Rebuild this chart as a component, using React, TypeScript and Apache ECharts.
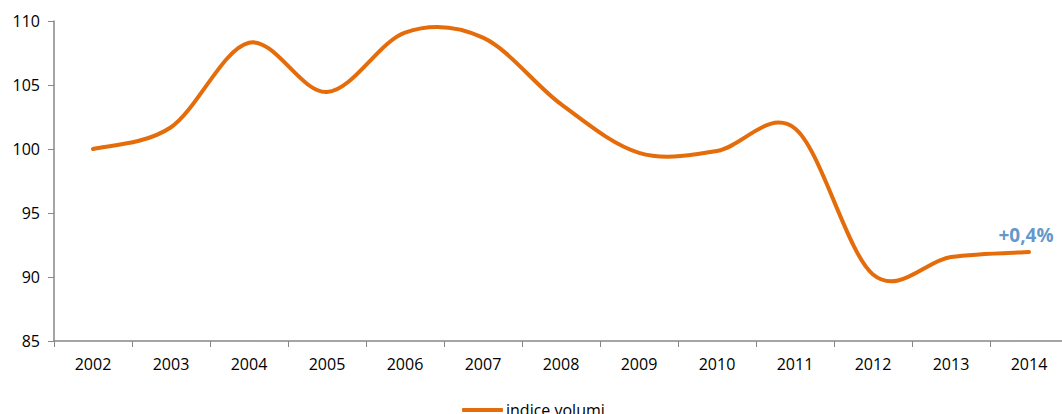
import React, { useEffect, useRef } from "react";
import * as echarts from "echarts";

const years = ["2002", "2003", "2004", "2005", "2006", "2007", "2008", "2009", "2010", "2011", "2012", "2013", "2014"];
const indiceVolumi = [100.0, 101.7, 108.3, 104.45, 109.1, 108.7, 103.5, 99.7, 99.85, 101.6, 90.2, 91.56, 91.95];
const lastLabel = "+0,4%";
const seriesName = "indice volumi";

const ORANGE = "#E46C0A";

export default function App() {
  const ref = useRef<HTMLDivElement>(null);
  useEffect(() => {
    if (!ref.current) return;
    document.body.style.overflow = "hidden";
    const chart = echarts.init(ref.current, undefined, { renderer: "svg" });
    const font = "'Open Sans', 'Liberation Sans', sans-serif";
    const axisColor = "#878787";
    const n = indiceVolumi.length;

    const renderItem = (params: any, api: any) => {
      if (params.dataIndex !== 0) return null;
      const pts = indiceVolumi.map((v, i) => api.coord([i, v]));
      let d = `M${pts[0][0]},${pts[0][1]}`;
      for (let i = 0; i < pts.length - 1; i++) {
        const p0 = pts[Math.max(0, i - 1)];
        const p1 = pts[i];
        const p2 = pts[i + 1];
        const p3 = pts[Math.min(pts.length - 1, i + 2)];
        const k = 1 / 6;
        const c1x = p1[0] + (p2[0] - p0[0]) * k;
        const c1y = p1[1] + (p2[1] - p0[1]) * k;
        const c2x = p2[0] - (p3[0] - p1[0]) * k;
        const c2y = p2[1] - (p3[1] - p1[1]) * k;
        d += ` C${c1x},${c1y} ${c2x},${c2y} ${p2[0]},${p2[1]}`;
      }
      return {
        type: "path",
        shape: { pathData: d },
        style: { fill: "none", stroke: ORANGE, lineWidth: 4, lineCap: "round", lineJoin: "round" },
      };
    };

    chart.setOption({
      animation: false,
      grid: { left: 54, right: 2, top: 21, bottom: 73 },
      xAxis: {
        type: "category",
        data: years,
        boundaryGap: true,
        axisLine: { show: true, lineStyle: { color: axisColor, width: 1.5 } },
        axisTick: { show: true, length: 6, lineStyle: { color: axisColor } },
        axisLabel: { color: "#000", fontSize: 16, fontFamily: font, margin: 15 },
        splitLine: { show: false },
      },
      yAxis: {
        type: "value",
        min: 85,
        max: 110,
        interval: 5,
        axisLine: { show: true, lineStyle: { color: axisColor, width: 1.5 } },
        axisTick: { show: true, length: 6, lineStyle: { color: axisColor } },
        axisLabel: { color: "#000", fontSize: 16, fontFamily: font, margin: 14 },
        splitLine: { show: false },
      },
      legend: {
        left: 462,
        top: 402,
        padding: 0,
        itemWidth: 41,
        itemHeight: 4,
        itemGap: 5,
        textStyle: { color: "#000", fontSize: 16, fontFamily: font, padding: [0, 0, 0, -2] },
        data: [{ name: seriesName, icon: "roundRect", itemStyle: { color: ORANGE, opacity: 1 } }],
      },
      series: [
        {
          name: "curve",
          type: "custom",
          renderItem,
          data: indiceVolumi.map((v, i) => [i, v]),
          encode: { x: 0, y: 1 },
          itemStyle: { color: ORANGE },
          clip: false,
          z: 2,
        },
        {
          name: seriesName,
          type: "scatter",
          symbolSize: 0,
          itemStyle: { color: ORANGE },
          silent: true,
          z: 3,
          data: [
            {
              value: [n - 1, indiceVolumi[n - 1]],
              label: {
                show: true,
                position: "top",
                distance: 6,
                offset: [-3, -2],
                formatter: lastLabel,
                color: "#3A7BC0",
                fontWeight: "bold",
                fontSize: 19,
                fontFamily: font,
              },
            },
          ],
        },
      ],
    });
    return () => chart.dispose();
  }, []);
  return (
    <div
      ref={ref}
      style={{ position: "fixed", left: 0, top: 0, width: 1070, height: 414, background: "#fff" }}
    />
  );
}
